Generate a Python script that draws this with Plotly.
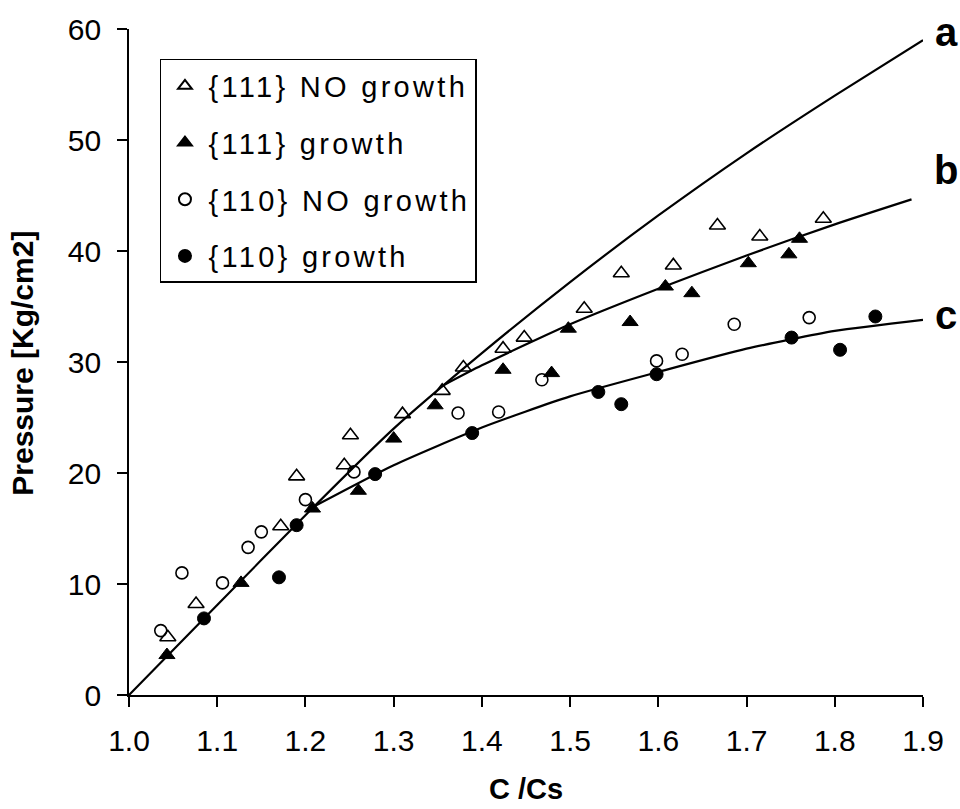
import plotly.graph_objects as go

# ---- data ----
x_tri_open = [1.044, 1.076, 1.172, 1.190, 1.244, 1.251, 1.310, 1.355, 1.379, 1.424, 1.448, 1.516, 1.558, 1.617, 1.667, 1.715, 1.787]
y_tri_open = [5.2, 8.2, 15.2, 19.7, 20.7, 23.4, 25.3, 27.4, 29.5, 31.2, 32.2, 34.8, 38.0, 38.7, 42.3, 41.3, 42.9]

x_tri_fill = [1.043, 1.127, 1.208, 1.260, 1.300, 1.347, 1.424, 1.479, 1.498, 1.568, 1.608, 1.638, 1.702, 1.748, 1.760]
y_tri_fill = [3.6, 10.1, 16.8, 18.4, 23.1, 26.1, 29.3, 29.0, 33.0, 33.6, 36.8, 36.2, 38.9, 39.7, 41.1]

x_circ_open = [1.036, 1.060, 1.106, 1.135, 1.150, 1.200, 1.255, 1.373, 1.419, 1.468, 1.598, 1.627, 1.686, 1.771]
y_circ_open = [5.8, 11.0, 10.1, 13.3, 14.7, 17.6, 20.1, 25.4, 25.5, 28.4, 30.1, 30.7, 33.4, 34.0]

x_circ_fill = [1.085, 1.170, 1.190, 1.279, 1.389, 1.532, 1.558, 1.598, 1.751, 1.806, 1.846]
y_circ_fill = [6.9, 10.6, 15.3, 19.9, 23.6, 27.3, 26.2, 28.9, 32.2, 31.1, 34.1]

curve_a_x = [1.0, 1.1, 1.2, 1.3, 1.4, 1.5, 1.6, 1.7, 1.8, 1.9]
curve_a_y = [0, 8.1, 16.2, 24.0, 30.8, 37.2, 43.2, 48.8, 54.0, 59.0]

curve_b_x = [1.354, 1.4, 1.5, 1.6, 1.7, 1.8, 1.887]
curve_b_y = [27.8, 29.7, 33.4, 36.6, 39.6, 42.4, 44.65]

curve_c_x = [1.21, 1.3, 1.4, 1.5, 1.6, 1.7, 1.8, 1.9]
curve_c_y = [17.0, 20.7, 24.1, 26.9, 29.1, 31.2, 32.8, 33.8]

curve_labels = ["a", "b", "c"]
series_names = ["{111} NO growth", "{111} growth", "{110} NO growth", "{110} growth"]

x_ticks = [1.0, 1.1, 1.2, 1.3, 1.4, 1.5, 1.6, 1.7, 1.8, 1.9]
y_ticks = [0, 10, 20, 30, 40, 50, 60]

FONT = "Liberation Sans, Arial, sans-serif"


def spaced(t):
    return '<span style="letter-spacing:3.3px">%s</span>' % t


fig = go.Figure()

for cx, cy in [(curve_a_x, curve_a_y), (curve_b_x, curve_b_y), (curve_c_x, curve_c_y)]:
    fig.add_trace(go.Scatter(x=cx, y=cy, mode="lines", showlegend=False,
                             line=dict(color="black", width=2.2, shape="spline", smoothing=0.6),
                             hoverinfo="skip", cliponaxis=False))

marker_line = dict(color="black", width=1.6)
fig.add_trace(go.Scatter(x=x_tri_open, y=y_tri_open, mode="markers", name=spaced(series_names[0]),
                         legendgroup="g1", cliponaxis=False,
                         marker=dict(symbol="triangle-up-open", size=14, color="black", line=marker_line)))
fig.add_trace(go.Scatter(x=x_tri_fill, y=y_tri_fill, mode="markers", name=spaced(series_names[1]),
                         legendgroup="g2", cliponaxis=False,
                         marker=dict(symbol="triangle-up", size=14, color="black", line=dict(color="black", width=1))))
fig.add_trace(go.Scatter(x=x_circ_open, y=y_circ_open, mode="markers", name=spaced(series_names[2]),
                         legendgroup="g3", cliponaxis=False,
                         marker=dict(symbol="circle-open", size=12, color="black", line=marker_line)))
fig.add_trace(go.Scatter(x=x_circ_fill, y=y_circ_fill, mode="markers", name=spaced(series_names[3]),
                         legendgroup="g4", cliponaxis=False,
                         marker=dict(symbol="circle", size=13, color="black", line=dict(color="black", width=1))))

# curve labels, placed just right of the plotting area
label_y_paper = [1.0296, 0.789, 0.571]
label_anchor = ["top", "middle", "middle"]
for t, ly, ya in zip(curve_labels, label_y_paper, label_anchor):
    fig.add_annotation(x=1.029, y=ly, xref="paper", yref="paper", text="<b>%s</b>" % t, showarrow=False,
                       xanchor="center", yanchor=ya, borderpad=0,
                       font=dict(family=FONT, size=40, color="black"))

fig.add_annotation(x=0.5, y=-0.1407, xref="paper", yref="paper", text="<b>C /Cs</b>", showarrow=False,
                   xanchor="center", yanchor="middle", font=dict(family=FONT, size=29, color="black"))
fig.add_annotation(x=-0.134, y=29.9, xref="paper", yref="y", text="<b>Pressure [Kg/cm2]</b>", showarrow=False,
                   textangle=-90, xanchor="center", yanchor="middle", font=dict(family=FONT, size=30, color="black"))

axis_common = dict(showline=True, linecolor="black", linewidth=1.6, ticks="outside", ticklen=10,
                   tickwidth=1.6, tickcolor="black", showgrid=False, zeroline=False,
                   tickfont=dict(family=FONT, size=30, color="black"))
fig.update_xaxes(range=[1.0, 1.9], tickvals=x_ticks, ticktext=["%.1f" % v for v in x_ticks],
                 ticklabelstandoff=8, **axis_common)
fig.update_yaxes(range=[0, 60], tickvals=y_ticks, ticktext=[str(v) for v in y_ticks],
                 ticklabelstandoff=10, **axis_common)

fig.update_layout(
    width=960, height=809,
    margin=dict(l=129, r=37, t=20, b=114),
    plot_bgcolor="white", paper_bgcolor="white",
    font=dict(family=FONT, color="black"),
    legend=dict(x=0.039, y=0.955, xanchor="left", yanchor="top", bordercolor="black", borderwidth=1.5,
                bgcolor="white", font=dict(family=FONT, size=29, color="black"),
                tracegroupgap=16, itemsizing="constant", itemwidth=37),
)

fig.write_html("out.html")
